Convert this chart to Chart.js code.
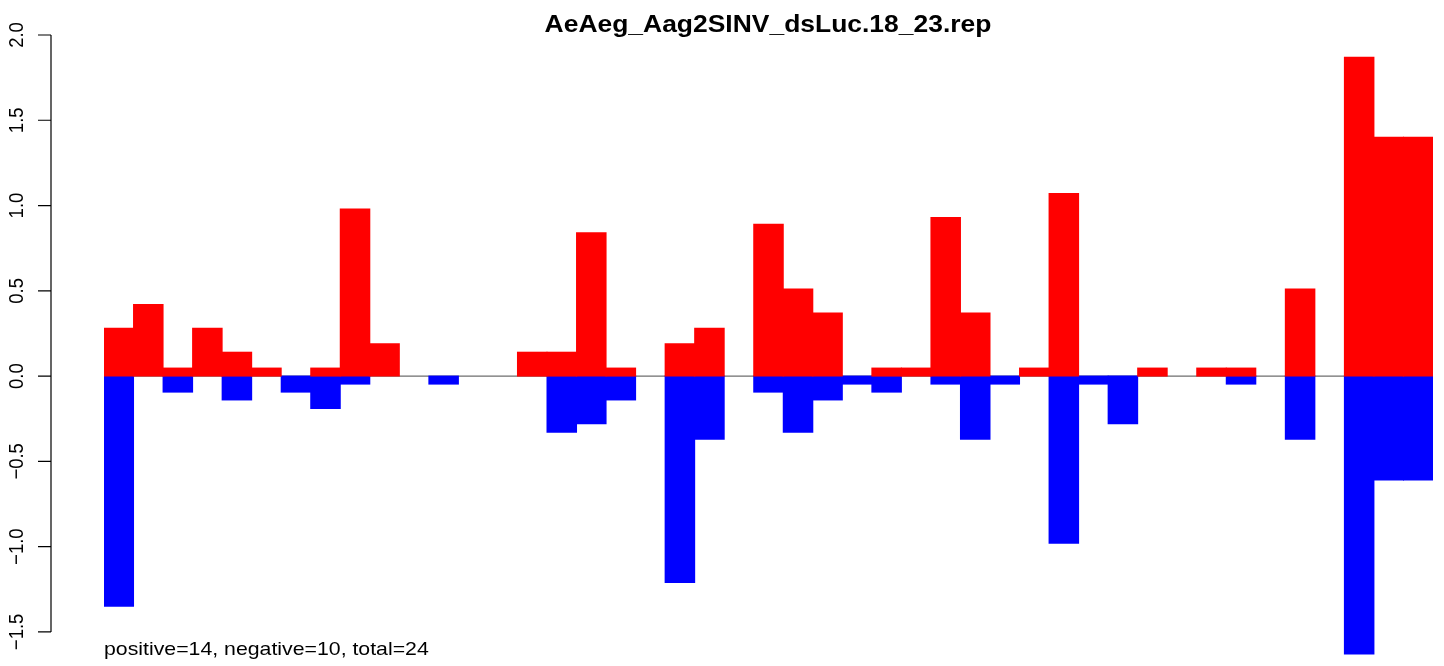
<!DOCTYPE html>
<html>
<head>
<meta charset="utf-8">
<script src="https://cdn.jsdelivr.net/npm/chart.js@4/dist/chart.umd.min.js"></script>
<style>
  html, body { margin: 0; padding: 0; background: #fff; }
  canvas { display: block; }
</style>
</head>
<body>
<canvas id="chart" width="1444" height="666"></canvas>
<script>
const titleText = "AeAeg_Aag2SINV_dsLuc.18_23.rep";
const noteText = "positive=14, negative=10, total=24";

// one bar per position, no names shown on the x axis
const positions = Array.from({ length: 45 }, (_, i) => String(i + 1));

// null = no bar at that position
const positiveValues = [
  0.28, 0.42, 0.047, 0.28, 0.14, 0.047, null, 0.047, 0.98, 0.19,
  null, null, null, null, 0.14, 0.14, 0.84, 0.047, null, 0.19,
  0.28, null, 0.89, 0.51, 0.37, null, 0.047, 0.047, 0.93, 0.37,
  null, 0.047, 1.07, null, null, 0.047, null, 0.047, 0.047, null,
  0.51, null, 1.87, 1.40, 1.40
];

const negativeValues = [
  -1.35, null, -0.094, null, -0.14, null, -0.094, -0.19, -0.047, null,
  null, -0.047, null, null, null, -0.33, -0.28, -0.14, null, -1.21,
  -0.37, null, -0.094, -0.33, -0.14, -0.047, -0.094, null, -0.047, -0.37,
  -0.047, null, -0.98, -0.047, -0.28, null, null, null, -0.047, null,
  -0.37, null, -1.63, -0.61, -0.61
];

const yTicks = [-1.5, -1.0, -0.5, 0.0, 0.5, 1.0, 1.5, 2.0];
const yTickLabels = ["\u22121.5", "\u22121.0", "\u22120.5", "0.0", "0.5", "1.0", "1.5", "2.0"];

const FONT = '"Liberation Sans", Arial, Helvetica, sans-serif';

function stretchedText(ctx, text, x, y, sx, angle) {
  ctx.save();
  ctx.translate(x, y);
  ctx.scale(sx, 1);
  if (angle) ctx.rotate(angle);
  ctx.fillText(text, 0, 0);
  ctx.restore();
}

const rPlotLook = {
  id: 'rPlotLook',
  beforeDatasetsDraw(chart) {
    const ctx = chart.ctx;
    const y0 = chart.scales.y.getPixelForValue(0);
    ctx.save();
    ctx.strokeStyle = '#6e6e6e';
    ctx.lineWidth = 1.2;
    ctx.beginPath();
    ctx.moveTo(chart.chartArea.left, y0);
    ctx.lineTo(chart.chartArea.right, y0);
    ctx.stroke();
    ctx.restore();
  },
  afterDraw(chart) {
    const ctx = chart.ctx;
    const y = chart.scales.y;
    const axisX = 51;

    ctx.save();
    ctx.strokeStyle = '#000';
    ctx.fillStyle = '#000';
    ctx.lineWidth = 1.2;

    // y axis line and ticks
    ctx.beginPath();
    ctx.moveTo(axisX, y.getPixelForValue(yTicks[yTicks.length - 1]));
    ctx.lineTo(axisX, y.getPixelForValue(yTicks[0]));
    yTicks.forEach(v => {
      const py = y.getPixelForValue(v);
      ctx.moveTo(38, py);
      ctx.lineTo(axisX, py);
    });
    ctx.stroke();

    // rotated tick labels
    ctx.font = '18.5px ' + FONT;
    ctx.textAlign = 'center';
    ctx.textBaseline = 'alphabetic';
    yTicks.forEach((v, i) => {
      stretchedText(ctx, yTickLabels[i], 22.5, y.getPixelForValue(v), 1.13, -Math.PI / 2);
    });

    // title
    ctx.font = 'bold 23.3px ' + FONT;
    ctx.textAlign = 'center';
    stretchedText(ctx, titleText, 768, 32, 1.135, 0);

    // note under the bars
    ctx.font = '19px ' + FONT;
    ctx.textAlign = 'left';
    stretchedText(ctx, noteText, 104, 655, 1.12, 0);

    ctx.restore();
  }
};

function create_chart(chartId) {
  let ctx = document.getElementById(chartId).getContext('2d');

  let myChart = new Chart(ctx, {
    type: 'bar',
    data: {
      labels: positions,
      datasets: [{
          data: positiveValues,
          label: "positive",
          backgroundColor: '#ff0000',
          borderWidth: 0,
          inflateAmount: 0.5,
          barPercentage: 1,
          categoryPercentage: 1,
          stack: 'reads',
        },
        {
          data: negativeValues,
          label: "negative",
          backgroundColor: '#0000ff',
          borderWidth: 0,
          inflateAmount: 0.5,
          barPercentage: 1,
          categoryPercentage: 1,
          stack: 'reads',
        }
      ]
    },
    options: {
      responsive: false,
      animation: false,
      devicePixelRatio: 1,
      layout: {
        padding: { left: 104, right: 11, top: 35, bottom: 0 }
      },
      plugins: {
        legend: { display: false },
        tooltip: { enabled: false },
        title: { display: false },
      },
      scales: {
        x: {
          display: false,
          stacked: true,
        },
        y: {
          display: false,
          stacked: true,
          min: -1.7,
          max: 2.0
        }
      }
    },
    plugins: [rPlotLook]
  });

  return myChart;
}

create_chart('chart');
</script>
</body>
</html>
